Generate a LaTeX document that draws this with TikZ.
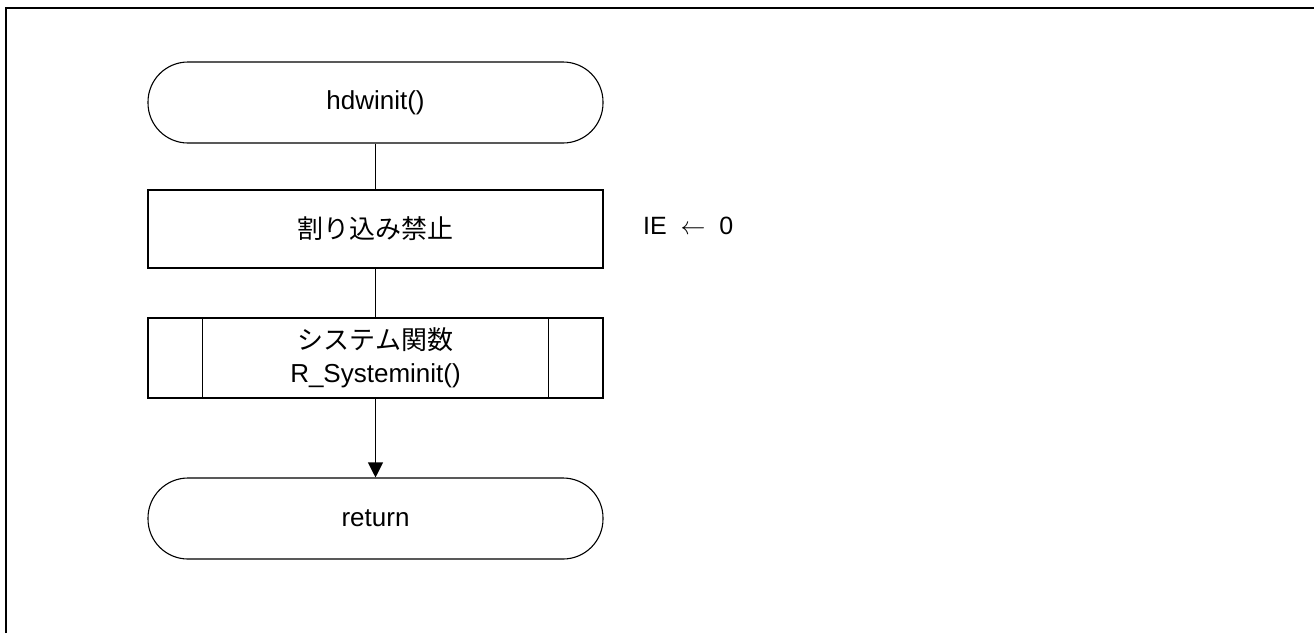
\documentclass[tikz,border=0pt]{standalone}
\usepackage{fontspec}
\setmainfont{Liberation Sans}
\newfontfamily\jpfont{Noto Sans CJK JP}
\usetikzlibrary{arrows.meta}
\begin{document}
\begin{tikzpicture}[x=1pt,y=-1pt,
  every node/.style={font=\fontsize{26}{33}\selectfont},
  term/.style={draw, line width=1.1pt, rectangle, rounded corners=40pt, minimum width=455pt, minimum height=81pt, inner sep=0pt},
  proc/.style={draw, line width=1.1pt, rectangle, minimum width=455pt, minimum height=78pt, inner sep=0pt},
  subr/.style={draw, line width=1.1pt, rectangle, minimum width=455pt, minimum height=80pt, inner sep=0pt, align=center},
  conn/.style={line width=1.1pt},
  frame/.style={line width=2.2pt}]
\useasboundingbox (0,0) rectangle (1314,633);
\draw[frame] (6,633) -- (6,8) -- (1314,8);
\node[term] (start) at (375.5,102.5) {hdwinit()};
\node[proc] (proc) at (375.5,229) {\jpfont 割り込み禁止};
\node[subr] (sub) at (375.5,358) {{\jpfont システム関数}\\R\_Systeminit()};
\draw[line width=1.1pt] ([xshift=55pt]sub.north west) -- ([xshift=55pt]sub.south west);
\draw[line width=1.1pt] ([xshift=-55pt]sub.north east) -- ([xshift=-55pt]sub.south east);
\node[term] (ret) at (375.5,518.5) {return};
\node[anchor=west, inner sep=0pt, font=\fontsize{25}{28}\selectfont] (ie) at (643,226) {IE \;$\leftarrow$\; 0};
\draw[conn] (start) -- (proc);
\draw[conn] (proc) -- (sub);
\draw[conn, -{Triangle[width=15pt,length=15pt]}] (sub) -- (ret);
\end{tikzpicture}
\end{document}
